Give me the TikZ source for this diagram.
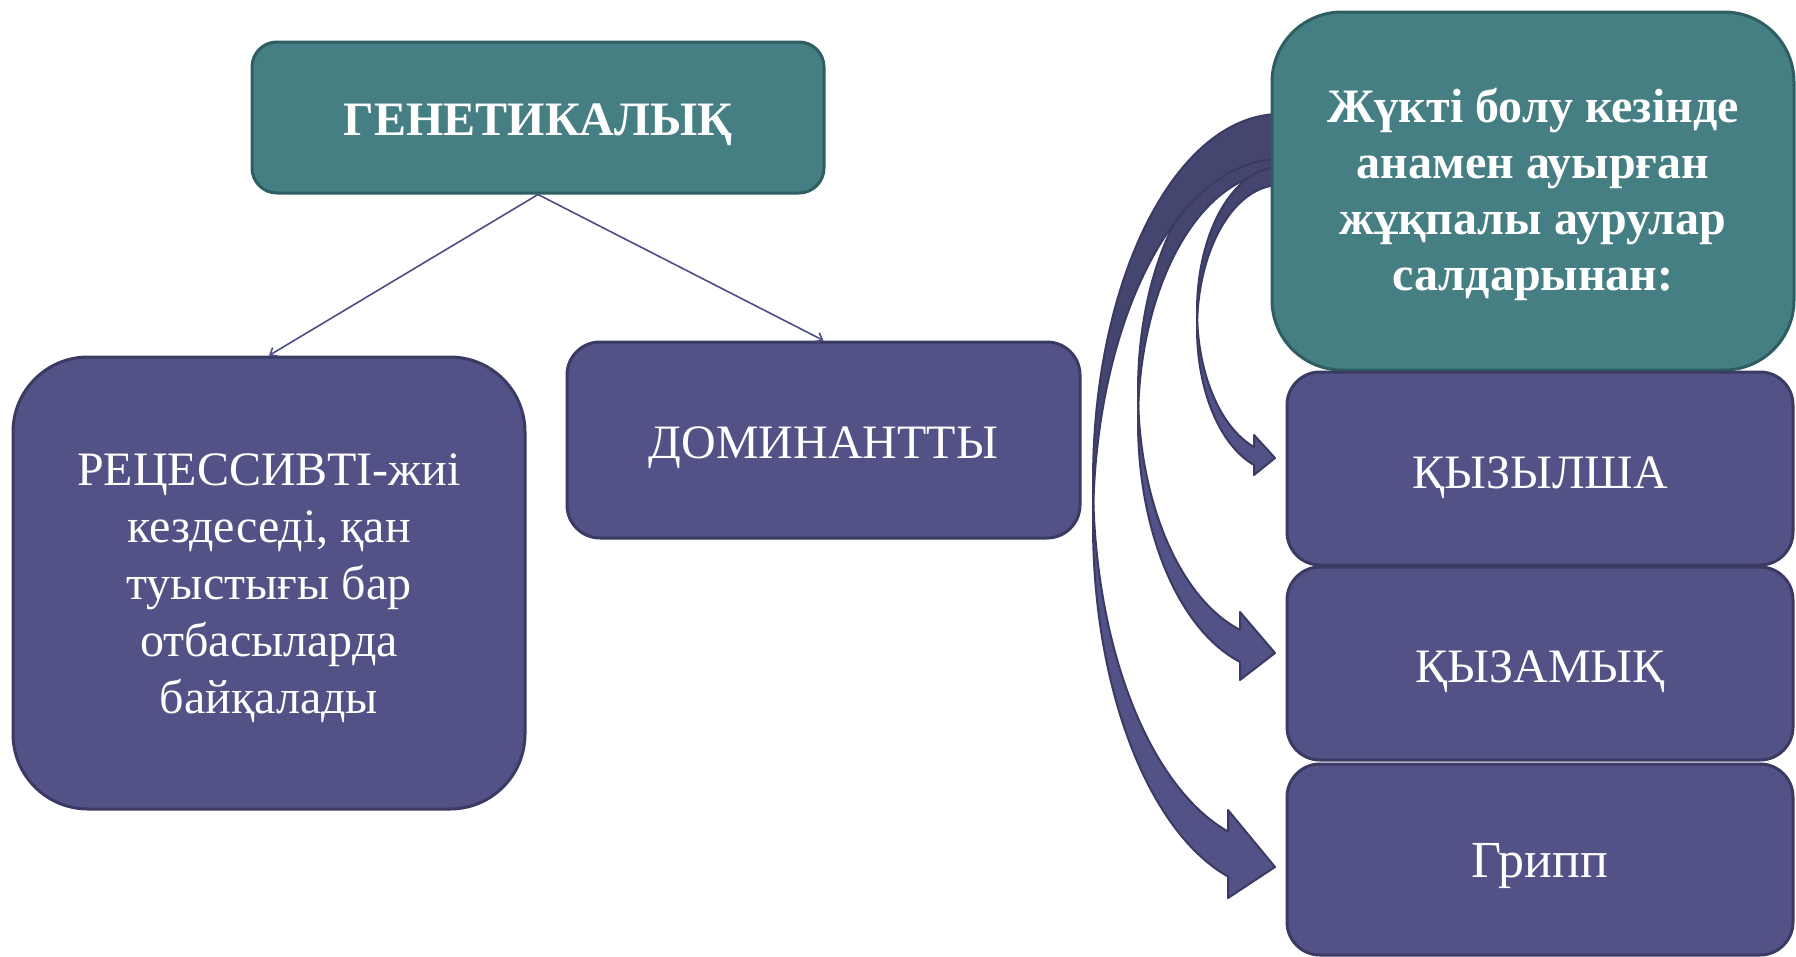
\documentclass[tikz,border=0pt]{standalone}
\usepackage{fontspec}
\setmainfont{Liberation Serif}
\usetikzlibrary{arrows.meta}
\definecolor{tealF}{HTML}{457F83}
\definecolor{tealB}{HTML}{2E5E61}
\definecolor{purpF}{HTML}{525287}
\definecolor{purpB}{HTML}{3A3A64}
\definecolor{arrBack}{HTML}{44466F}
\definecolor{connC}{HTML}{4D4D88}
\tikzset{
  tealbox/.style={draw=tealB, fill=tealF, line width=3pt, text=white, align=center, inner sep=0pt},
  purpbox/.style={draw=purpB, fill=purpF, line width=3pt, text=white, align=center, inner sep=0pt},
  oneline/.style={text height=#1, text depth=0pt},
  conn/.style={draw=connC, line width=1.6pt, -{Straight Barb[length=6pt,width=10pt]}},
  arrowback/.style={fill=arrBack, draw=purpB, line width=2pt, line join=round},
  arrowfront/.style={fill=purpF, draw=purpB, line width=2pt, line join=round},
}
% #1 cy, #2 rx, #3 ry, #4 thickness, #5 end angle, #6 head base x, #7 barb1 y, #8 barb2 y, #9 tip y
\newcommand{\bandarrow}[9]{%
  \filldraw[arrowback]
    plot[domain=90:180,samples=50,variable=\t]({1280+#2*cos(\t)},{#1-#3*sin(\t)})
    -- plot[domain=180:90,samples=50,variable=\t]({1280+#2*cos(\t)},{#1+#4-#3*sin(\t)})
    -- cycle;
  \filldraw[arrowfront]
    plot[domain=180:#5,samples=50,variable=\t]({1280+#2*cos(\t)},{#1-#3*sin(\t)})
    -- (#6,#7) -- (1275,#9) -- (#6,#8)
    -- plot[domain=#5:180,samples=50,variable=\t]({1280+#2*cos(\t)},{#1+#4-#3*sin(\t)})
    -- cycle;
}
\begin{document}
\begin{tikzpicture}[x=1pt,y=-1pt]
\useasboundingbox (0,0) rectangle (1796,956);
\fill[white] (0,0) rectangle (1796,956);

% curved block arrows
\bandarrow{390}{142}{250}{32}{253.64}{1240}{612}{680}{653}
\bandarrow{480}{187}{366}{45}{253.85}{1228}{810}{898}{867}
\bandarrow{310.6}{83}{143.6}{18}{251.74}{1254}{435}{475}{458}

% left part
\node[tealbox, oneline=35pt, minimum width=572pt, minimum height=151pt, rounded corners=25pt,
      font=\bfseries\fontsize{48}{56}\selectfont] (gen) at (538,117.5) {ГЕНЕТИКАЛЫҚ};
\node[purpbox, minimum width=512pt, minimum height=452pt, rounded corners=75pt,
      font=\fontsize{48}{57}\selectfont] (rec) at (269,583)
      {\rule{0pt}{42pt}РЕЦЕССИВТІ-жиі\\кездеседі, қан\\туыстығы бар\\отбасыларда\\байқалады};
\node[purpbox, oneline=36pt, minimum width=513pt, minimum height=196pt, rounded corners=33pt,
      font=\fontsize{48}{56}\selectfont] (dom) at (823.5,440) {ДОМИНАНТТЫ};

\draw[conn] (gen.south) -- (rec.north);
\draw[conn] (gen.south) -- (dom.north);

% right part
\node[tealbox, minimum width=522pt, minimum height=358pt, rounded corners=70pt,
      font=\bfseries\fontsize{48}{56}\selectfont] (cause) at (1533,191)
      {\rule{0pt}{42pt}Жүкті болу кезінде\\анамен ауырған\\жұқпалы аурулар\\салдарынан:};
\node[purpbox, oneline=39pt, minimum width=506pt, minimum height=193pt, rounded corners=33pt,
      font=\fontsize{48}{56}\selectfont] (q1) at (1540,468.5) {ҚЫЗЫЛША};
\node[purpbox, oneline=37pt, minimum width=506pt, minimum height=193pt, rounded corners=33pt,
      font=\fontsize{48}{56}\selectfont] (q2) at (1540,663.5) {ҚЫЗАМЫҚ};
\node[purpbox, oneline=35pt, minimum width=506pt, minimum height=191pt, rounded corners=33pt,
      font=\fontsize{52}{56}\selectfont] (q3) at (1540,859.5) {Грипп};
\end{tikzpicture}
\end{document}
